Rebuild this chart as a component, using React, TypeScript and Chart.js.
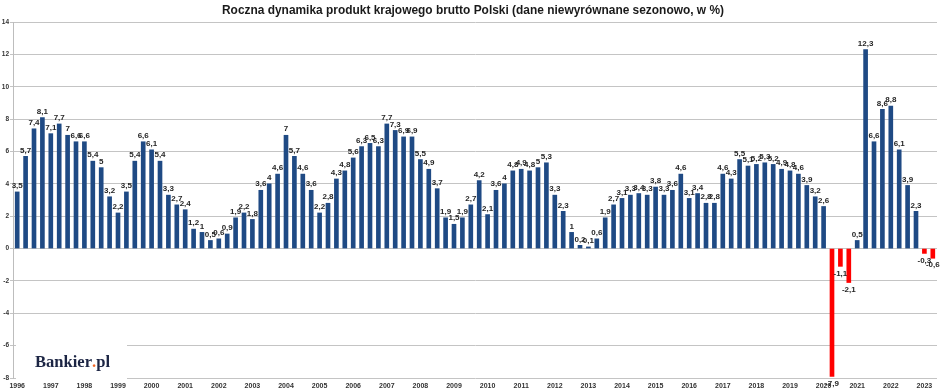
import React, { useEffect, useRef } from 'react';
import { Chart, registerables } from 'chart.js';

Chart.register(...registerables);

const years = [
  '1996', '1997', '1998', '1999', '2000', '2001', '2002', '2003', '2004', '2005',
  '2006', '2007', '2008', '2009', '2010', '2011', '2012', '2013', '2014', '2015',
  '2016', '2017', '2018', '2019', '2020', '2021', '2022', '2023',
];
const quarterNames = ['Q1', 'Q2', 'Q3', 'Q4'];

// Roczna dynamika PKB (r/r, %), kwartalnie od 1996 Q1 do 2023 Q2
const growth = [
  3.5, 5.7, 7.4, 8.1,
  7.1, 7.7, 7.0, 6.6,
  6.6, 5.4, 5.0, 3.2,
  2.2, 3.5, 5.4, 6.6,
  6.1, 5.4, 3.3, 2.7,
  2.4, 1.2, 1.0, 0.5,
  0.6, 0.9, 1.9, 2.2,
  1.8, 3.6, 4.0, 4.6,
  7.0, 5.7, 4.6, 3.6,
  2.2, 2.8, 4.3, 4.8,
  5.6, 6.3, 6.5, 6.3,
  7.7, 7.3, 6.9, 6.9,
  5.5, 4.9, 3.7, 1.9,
  1.5, 1.9, 2.7, 4.2,
  2.1, 3.6, 4.0, 4.8,
  4.9, 4.8, 5.0, 5.3,
  3.3, 2.3, 1.0, 0.2,
  0.1, 0.6, 1.9, 2.7,
  3.1, 3.3, 3.4, 3.3,
  3.8, 3.3, 3.6, 4.6,
  3.1, 3.4, 2.8, 2.8,
  4.6, 4.3, 5.5, 5.1,
  5.2, 5.3, 5.2, 4.9,
  4.8, 4.6, 3.9, 3.2,
  2.6, -7.9, -1.1, -2.1,
  0.5, 12.3, 6.6, 8.6,
  8.8, 6.1, 3.9, 2.3,
  -0.3, -0.6,
];

const categories: string[] = [];
years.forEach((y) => quarterNames.forEach((q) => categories.push(`${y} ${q}`)));
categories.length = growth.length;

const TITLE = 'Roczna dynamika produkt krajowego brutto Polski (dane niewyrównane sezonowo, w %)';
const BLUE = '#1f4a84';
const RED = '#ff0000';

const fmt = (v: number) => String(v).replace('.', ',');

const labelPlugin = {
  id: 'valueLabels',
  afterDatasetsDraw(chart: any) {
    const ctx = chart.ctx;
    const meta = chart.getDatasetMeta(0);
    ctx.save();
    ctx.font = 'bold 8px "Liberation Sans", Arial, sans-serif';
    ctx.fillStyle = '#262626';
    ctx.textAlign = 'center';
    meta.data.forEach((bar: any, i: number) => {
      const v = growth[i];
      if (v >= 0) {
        ctx.textBaseline = 'bottom';
        ctx.fillText(fmt(v), bar.x, bar.y - 2);
      } else {
        ctx.textBaseline = 'top';
        ctx.fillText(fmt(v), bar.x, bar.y + 3);
      }
    });
    ctx.restore();
  },
};

const decorPlugin = {
  id: 'decor',
  afterDraw(chart: any) {
    const ctx = chart.ctx;
    ctx.save();
    // title
    ctx.font = 'bold 13px "Liberation Sans", Arial, sans-serif';
    ctx.fillStyle = '#1a1a1a';
    ctx.textBaseline = 'middle';
    ctx.textAlign = 'left';
    const w = ctx.measureText(TITLE).width;
    const target = 502;
    ctx.save();
    ctx.translate(222, 10);
    ctx.scale(target / w, 1);
    ctx.fillText(TITLE, 0, 0);
    ctx.restore();

    // logo box
    ctx.fillStyle = '#ffffff';
    ctx.fillRect(16, 338, 111, 42);
    ctx.font = 'bold 17px "Liberation Serif", "DejaVu Serif", serif';
    ctx.textBaseline = 'alphabetic';
    const p1 = 'Bankier';
    const p2 = '.';
    const p3 = 'pl';
    const w1 = ctx.measureText(p1).width;
    const w2 = ctx.measureText(p2).width;
    const w3 = ctx.measureText(p3).width;
    const total = w1 + w2 + w3;
    const sx = 75 / total;
    ctx.translate(35, 367);
    ctx.scale(sx, 1);
    ctx.fillStyle = '#1c2544';
    ctx.fillText(p1, 0, 0);
    ctx.fillStyle = '#f26522';
    ctx.fillText(p2, w1, 0);
    ctx.fillStyle = '#1c2544';
    ctx.fillText(p3, w1 + w2, 0);
    ctx.restore();
  },
};

export default function App() {
  const ref = useRef<HTMLCanvasElement | null>(null);

  useEffect(() => {
    if (!ref.current) return;
    const chart = new Chart(ref.current, {
      type: 'bar',
      data: {
        labels: categories,
        datasets: [
          {
            data: growth,
            backgroundColor: growth.map((v) => (v < 0 ? RED : BLUE)),
            barThickness: 4,
          },
        ],
      },
      options: {
        animation: false,
        responsive: false,
        devicePixelRatio: 1,
        layout: { padding: { top: 22, right: 11, left: 0, bottom: 0 } },
        plugins: {
          legend: { display: false },
          tooltip: { enabled: false },
          title: { display: false },
        },
        scales: {
          x: {
            type: 'category',
            offset: true,
            grid: { display: false, drawTicks: false },
            border: { display: false },
            ticks: {
              autoSkip: false,
              maxRotation: 0,
              minRotation: 0,
              padding: 4,
              color: '#333333',
              font: { family: '"Liberation Sans", Arial, sans-serif', size: 7, weight: 'bold' },
              callback: (_v: any, idx: number) => (idx % 4 === 0 ? years[idx / 4] : ''),
            },
            afterFit: (scale: any) => {
              scale.height = 13;
            },
          },
          y: {
            min: -8,
            max: 14,
            ticks: {
              stepSize: 2,
              padding: 1,
              color: '#333333',
              font: { family: '"Liberation Sans", Arial, sans-serif', size: 6.5, weight: 'bold' },
            },
            grid: { color: '#c4c4c4', lineWidth: 1, tickLength: 3 },
            border: { display: true, color: '#bdbdbd' },
            afterFit: (scale: any) => {
              scale.width = 13;
            },
          },
        },
      } as any,
      plugins: [labelPlugin, decorPlugin],
    });
    return () => chart.destroy();
  }, []);

  return (
    <div style={{ position: 'fixed', left: 0, top: 0, width: 948, height: 391, background: '#ffffff' }}>
      <canvas ref={ref} width={948} height={391} style={{ width: 948, height: 391, display: 'block' }} />
    </div>
  );
}
